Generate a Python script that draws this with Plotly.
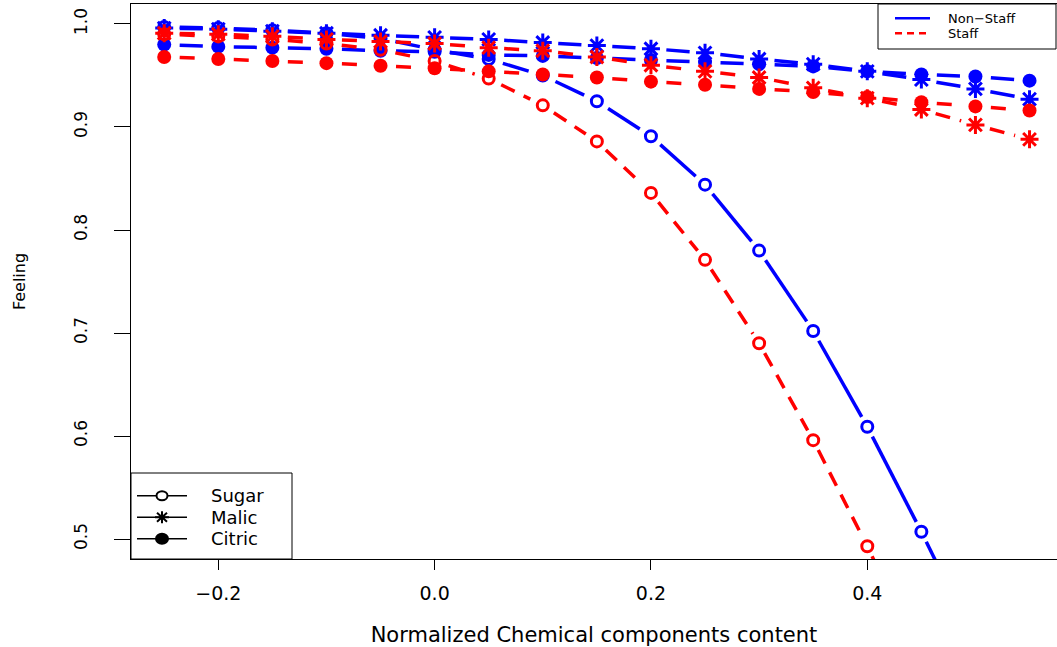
import numpy as np
import plotly.graph_objects as go

# ---------------- data ----------------
x_vals = [-0.25, -0.20, -0.15, -0.10, -0.05, 0.00, 0.05, 0.10, 0.15,
          0.20, 0.25, 0.30, 0.35, 0.40, 0.45, 0.50, 0.55]

nonstaff_sugar = [0.997, 0.996, 0.994, 0.991, 0.986, 0.975, 0.966, 0.950, 0.925,
                  0.891, 0.844, 0.780, 0.702, 0.609, 0.507, 0.400, 0.290]
nonstaff_malic = [0.996, 0.995, 0.993, 0.991, 0.989, 0.987, 0.985, 0.982, 0.979,
                  0.976, 0.972, 0.966, 0.961, 0.954, 0.946, 0.937, 0.927]
nonstaff_citric = [0.980, 0.978, 0.977, 0.976, 0.974, 0.973, 0.970, 0.969, 0.967,
                   0.965, 0.963, 0.961, 0.959, 0.954, 0.951, 0.949, 0.945]

staff_sugar = [0.990, 0.988, 0.985, 0.981, 0.975, 0.964, 0.947, 0.921, 0.886,
               0.836, 0.771, 0.690, 0.596, 0.493, 0.383, 0.270, 0.160]
staff_malic = [0.991, 0.990, 0.988, 0.985, 0.983, 0.981, 0.977, 0.974, 0.968,
               0.960, 0.954, 0.948, 0.938, 0.928, 0.917, 0.902, 0.888]
staff_citric = [0.968, 0.966, 0.964, 0.962, 0.9595, 0.957, 0.954, 0.951, 0.948,
                0.944, 0.941, 0.937, 0.934, 0.929, 0.924, 0.920, 0.916]

x_tick_vals = [-0.2, 0.0, 0.2, 0.4]
x_tick_text = ["\u22120.2", "0.0", "0.2", "0.4"]
y_tick_vals = [0.5, 0.6, 0.7, 0.8, 0.9, 1.0]
y_tick_text = ["0.5", "0.6", "0.7", "0.8", "0.9", "1.0"]

group_names = ["Non\u2212Staff", "Staff"]
component_names = ["Sugar", "Malic", "Citric"]

# ---------------- layout constants ----------------
W, H = 1057, 647
M_L, M_R, M_T, M_B = 131, 0, 4, 88
X_RANGE = [-0.2807, 0.5754]
Y_RANGE = [0.4806, 1.0194]
PLOT_W = W - M_L - M_R
PLOT_H = H - M_T - M_B
PX_X = PLOT_W / (X_RANGE[1] - X_RANGE[0])
PX_Y = PLOT_H / (Y_RANGE[1] - Y_RANGE[0])
GAP_X, GAP_Y = 15.5, 10.5   # R type="b" gap around each point, in px

FONT = "DejaVu Sans"
BLUE = "#0000FF"
RED = "#FF0000"
LW = 3.5
DASH = "15px,10px"


def px_x(px):
    """pixel column in the figure -> paper x"""
    return (px - M_L) / PLOT_W


def px_y(py):
    """pixel row in the figure -> paper y"""
    return (H - M_B - py) / PLOT_H


def gapped(xs, ys):
    """Line segments between consecutive points, shortened around each
    point like R's type='b' plotting."""
    ox, oy = [], []
    for i in range(len(xs) - 1):
        ddx, ddy = xs[i + 1] - xs[i], ys[i + 1] - ys[i]
        t = 1.0 / np.hypot(ddx * PX_X / GAP_X, ddy * PX_Y / GAP_Y)
        if t >= 0.5:
            continue
        ox += [xs[i] + t * ddx, xs[i + 1] - t * ddx, None]
        oy += [ys[i] + t * ddy, ys[i + 1] - t * ddy, None]
    return ox, oy


symbols = {
    "Sugar": dict(symbol="circle-open", size=11, lw=3),
    "Malic": dict(symbol="asterisk-open", size=15, lw=3),
    "Citric": dict(symbol="circle", size=14, lw=0),
}

series = [
    ("Non-Staff", "Sugar", nonstaff_sugar, BLUE, "solid"),
    ("Non-Staff", "Malic", nonstaff_malic, BLUE, "solid"),
    ("Non-Staff", "Citric", nonstaff_citric, BLUE, "solid"),
    ("Staff", "Sugar", staff_sugar, RED, DASH),
    ("Staff", "Malic", staff_malic, RED, DASH),
    ("Staff", "Citric", staff_citric, RED, DASH),
]

fig = go.Figure()

for grp, comp, ys, col, dash in series:
    lx, ly = gapped(x_vals, ys)
    fig.add_trace(go.Scatter(
        x=lx, y=ly, mode="lines", showlegend=False, hoverinfo="skip",
        line=dict(color=col, width=LW, dash=dash),
    ))
    m = symbols[comp]
    fig.add_trace(go.Scatter(
        x=x_vals, y=ys, mode="markers", showlegend=False,
        name=f"{grp} {comp}",
        marker=dict(symbol=m["symbol"], size=m["size"], color=col,
                    line=dict(color=col, width=m["lw"])),
    ))

# ---------------- legends (drawn as shapes + annotations) ----------------
shapes = []
annotations = []

# group legend, top right
shapes.append(dict(type="rect", xref="paper", yref="paper",
                   x0=px_x(878), x1=px_x(1056), y0=px_y(49), y1=px_y(4),
                   line=dict(color="black", width=1), fillcolor="white",
                   layer="above"))
for name, col, dash, row in [(group_names[0], BLUE, "solid", 18.3),
                             (group_names[1], RED, "7px,5px", 33.3)]:
    shapes.append(dict(type="line", xref="paper", yref="paper",
                       x0=px_x(895), x1=px_x(930), y0=px_y(row), y1=px_y(row),
                       line=dict(color=col, width=2.5, dash=dash), layer="above"))
    annotations.append(dict(text=name, xref="paper", yref="paper",
                            x=px_x(946), y=px_y(row), xanchor="left",
                            yanchor="middle", showarrow=False,
                            font=dict(family=FONT, size=13, color="black")))

# component legend, bottom left
shapes.append(dict(type="rect", xref="paper", yref="paper",
                   x0=px_x(131), x1=px_x(292), y0=px_y(559), y1=px_y(473),
                   line=dict(color="black", width=1), fillcolor="white",
                   layer="above"))
rows = [495.7, 517.2, 538.7]
for comp, row in zip(component_names, rows):
    shapes.append(dict(type="line", xref="paper", yref="paper",
                       x0=px_x(137), x1=px_x(187), y0=px_y(row), y1=px_y(row),
                       line=dict(color="black", width=1.5), layer="above"))
    annotations.append(dict(text=comp, xref="paper", yref="paper",
                            x=px_x(209), y=px_y(row), xanchor="left",
                            yanchor="middle", showarrow=False,
                            font=dict(family=FONT, size=18, color="black")))
cx = px_x(162)
# Sugar: open circle
shapes.append(dict(type="circle", xref="paper", yref="paper",
                   xsizemode="pixel", ysizemode="pixel",
                   xanchor=cx, yanchor=px_y(rows[0]),
                   x0=-5.5, x1=5.5, y0=-4.5, y1=4.5,
                   line=dict(color="black", width=2), fillcolor="white",
                   layer="above"))
# Malic: asterisk
shapes.append(dict(type="path", xref="paper", yref="paper",
                   xsizemode="pixel", ysizemode="pixel",
                   xanchor=cx, yanchor=px_y(rows[1]),
                   path="M-7,0H7M0,-6V6M-5,-4.5L5,4.5M-5,4.5L5,-4.5",
                   line=dict(color="black", width=2), layer="above"))
# Citric: filled circle
shapes.append(dict(type="circle", xref="paper", yref="paper",
                   xsizemode="pixel", ysizemode="pixel",
                   xanchor=cx, yanchor=px_y(rows[2]),
                   x0=-7, x1=7, y0=-6, y1=6,
                   line=dict(color="black", width=0), fillcolor="black",
                   layer="above"))

fig.update_layout(
    width=W, height=H,
    margin=dict(l=M_L, r=M_R, t=M_T, b=M_B, autoexpand=False),
    paper_bgcolor="white", plot_bgcolor="white",
    font=dict(family=FONT, color="black"),
    showlegend=False,
    shapes=shapes, annotations=annotations,
    xaxis=dict(
        range=X_RANGE, tickvals=x_tick_vals, ticktext=x_tick_text,
        showgrid=False, zeroline=False, showline=True, mirror=True,
        linecolor="black", linewidth=1, ticks="outside", ticklen=10,
        tickcolor="black", tickwidth=1, ticklabelstandoff=7,
        tickfont=dict(family=FONT, size=19, color="black"),
        title=dict(text="Normalized Chemical components content",
                   font=dict(family=FONT, size=21, color="black"), standoff=30),
    ),
    yaxis=dict(
        range=Y_RANGE, tickvals=y_tick_vals, ticktext=y_tick_text,
        showgrid=False, zeroline=False, showline=True, mirror=False,
        linecolor="black", linewidth=1, ticks="outside", ticklen=16,
        tickcolor="black", tickwidth=1, tickangle=-90, ticklabelstandoff=20,
        tickfont=dict(family=FONT, size=17, color="black"),
        title=dict(text="Feeling", font=dict(family=FONT, size=16, color="black"),
                   standoff=41),
    ),
)

fig.write_html("out.html",
               config={"displayModeBar": False},
               post_script="document.body.style.margin='0px';"
                           "document.body.style.overflow='hidden';")
